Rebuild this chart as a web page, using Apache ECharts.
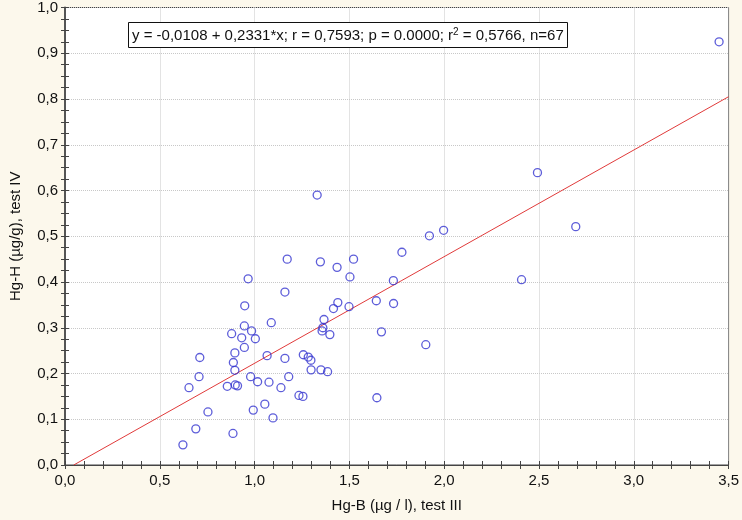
<!DOCTYPE html>
<html><head><meta charset="utf-8">
<script src="https://cdn.jsdelivr.net/npm/echarts@6/dist/echarts.min.js"></script>
<style>html,body{margin:0;padding:0;background:#fcf8ec;}#c{width:742px;height:520px;}</style>
</head><body><div id="c"></div>
<script>
// Hg-B (x) values
const hgB = [0.948,0.946,1.088,0.879,0.984,0.932,1.004,0.946,0.896,0.711,1.066,1.160,1.257,0.888,0.896,0.707,0.979,1.016,1.076,1.180,0.654,0.856,0.898,0.910,1.139,1.234,1.255,0.754,0.993,1.054,1.097,0.690,0.886,0.622,
 1.330,1.172,1.347,1.435,1.522,1.777,0.966,1.503,1.732,1.160,1.439,1.416,1.498,1.642,1.733,1.366,1.356,1.397,1.669,
 2.492,1.922,1.997,2.408,1.903,1.283,1.297,1.298,1.350,1.385,1.645,2.694,3.45,1.36];
// Hg-H (y) values
const hgH = [0.348,0.304,0.311,0.287,0.293,0.278,0.276,0.257,0.245,0.235,0.239,0.233,0.241,0.224,0.207,0.193,0.193,0.182,0.181,0.193,0.169,0.172,0.175,0.173,0.169,0.152,0.150,0.116,0.120,0.133,0.103,0.079,0.069,0.044,
 0.590,0.450,0.444,0.432,0.450,0.465,0.407,0.411,0.403,0.378,0.355,0.342,0.346,0.359,0.353,0.318,0.293,0.285,0.291,
 0.639,0.501,0.513,0.405,0.263,0.236,0.229,0.208,0.208,0.204,0.147,0.521,0.925,0.300];
// regression line end points
const fitX = [0.046, 3.5];
const fitY = [0.0, 0.805];
const xTicks = ['0,0','0,5','1,0','1,5','2,0','2,5','3,0','3,5'];
const eqText = ['y = -0,0108 + 0,2331*x; r = 0,7593; p = 0.0000; r', '2', ' = 0,5766, n=67'];

const fmt = v => v.toFixed(1).replace('.', ',');
const chart = echarts.init(document.getElementById('c'), null, {renderer:'canvas'});
const pts = hgB.map((x,i)=>[x,hgH[i]]);
const lbl = {color:'#111', fontFamily:'Liberation Sans, Arial', fontSize:15};
const tickIn = {show:true, inside:true, length:4, lineStyle:{color:'#444'}};
chart.setOption({
  animation:false,
  backgroundColor:'#fcf8ec',
  title:{
    text:'{a|'+eqText[0]+'}{s|'+eqText[1]+'}{a|'+eqText[2]+'}',
    left:128, top:22,
    backgroundColor:'#fff', borderColor:'#111', borderWidth:1,
    padding:[5,4,4,4],
    textStyle:{fontWeight:'normal', rich:{
      a:{fontFamily:'Liberation Sans, Arial', fontSize:15, fontWeight:'normal', color:'#111', lineHeight:18},
      s:{fontFamily:'Liberation Sans, Arial', fontSize:10, fontWeight:'normal', color:'#111', verticalAlign:'top', lineHeight:18, padding:[0,0,7,0]}
    }}
  },
  grid:{left:56, right:13, top:7, bottom:55, show:true, backgroundColor:'#fff', borderColor:'#444', borderWidth:1},
  xAxis:[{
    type:'value', min:0, max:3.5, interval:0.5,
    name:'Hg-B (µg / l), test III', nameLocation:'middle', nameGap:33,
    nameTextStyle:{color:'#111', fontFamily:'Liberation Sans, Arial', fontSize:15},
    axisLine:{show:true, onZero:false, lineStyle:{color:'#444'}},
    axisTick:tickIn, minorTick:{show:true, splitNumber:5, length:4, lineStyle:{color:'#444'}},
    axisLabel:Object.assign({margin:8, formatter:v=>xTicks[Math.round(v/0.5)]}, lbl),
    splitLine:{show:true, lineStyle:{color:'#c8c8c8', type:'dotted'}}
  },{
    type:'value', position:'top', min:0, max:3.5, interval:0.5,
    axisLine:{show:true, lineStyle:{color:'#444'}},
    axisTick:tickIn, minorTick:{show:true, splitNumber:5, length:4, lineStyle:{color:'#444'}},
    axisLabel:{show:false}, splitLine:{show:false}
  }],
  yAxis:[{
    type:'value', min:0, max:1, interval:0.1,
    name:'Hg-H (µg/g), test IV', nameLocation:'middle', nameGap:42,
    nameTextStyle:{color:'#111', fontFamily:'Liberation Sans, Arial', fontSize:15},
    axisLine:{show:true, onZero:false, lineStyle:{color:'#444'}},
    axisTick:tickIn, minorTick:{show:true, splitNumber:4, length:4, lineStyle:{color:'#444'}},
    axisLabel:Object.assign({margin:7, formatter:fmt}, lbl),
    splitLine:{show:true, lineStyle:{color:'#c8c8c8', type:'dotted'}}
  },{
    type:'value', position:'right', min:0, max:1, interval:0.1,
    axisLine:{show:true, lineStyle:{color:'#555', width:2}},
    axisTick:tickIn, minorTick:{show:true, splitNumber:4, length:4, lineStyle:{color:'#444'}},
    axisLabel:{show:false}, splitLine:{show:false}
  }],
  series:[{
    type:'line', data:fitX.map((x,i)=>[x,fitY[i]]), showSymbol:false, symbol:'none',
    lineStyle:{color:'#e03a3a', width:1}, z:2
  },{
    type:'scatter', data:pts, symbol:'circle', symbolSize:8,
    itemStyle:{color:'rgba(255,255,255,0)', borderColor:'#3535d0', borderWidth:1.3}, z:3
  }]
});
</script></body></html>
